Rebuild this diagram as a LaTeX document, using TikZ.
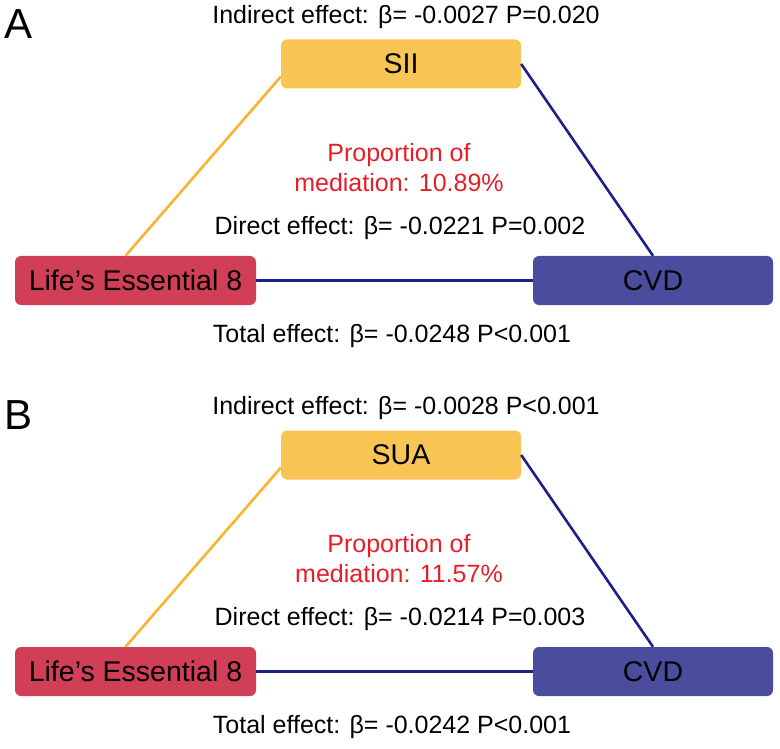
\documentclass[tikz,border=0pt]{standalone}
\usepackage{fontspec}
\setmainfont{Liberation Sans}
\usetikzlibrary{positioning}
\definecolor{medyellow}{HTML}{F8C555}
\definecolor{lifered}{HTML}{D03F55}
\definecolor{cvdblue}{HTML}{4A4D9E}
\definecolor{lineblue}{HTML}{1C2088}
\definecolor{lineyellow}{HTML}{F9B233}
\definecolor{propred}{HTML}{E61E28}

\begin{document}
\begin{tikzpicture}[x=1pt,y=-1pt]
\tikzstyle{every node}+=[font=\fontsize{25}{30}\selectfont]
\tikzstyle{box}=[rounded corners=6pt,minimum width=240pt,minimum height=49pt,inner sep=0pt,font=\fontsize{28.5}{30}\selectfont]
\tikzstyle{link}=[line width=2.6pt]
\useasboundingbox (0,0) rectangle (780,749);
\foreach \p/\dy/\med/\ind/\prop/\dir/\tot in {%
  A/0/SII/{-0.0027 P=0.020}/10.89/{-0.0221 P=0.002}/{-0.0248 P<0.001},%
  B/391/SUA/{-0.0028 P<0.001}/11.57/{-0.0214 P=0.003}/{-0.0242 P<0.001}}
{
\begin{scope}[yshift=-\dy pt]
% panel letter
\node (lab\p) at (19,24) {\fontsize{42}{42}\selectfont \p};
% boxes
\node[box,fill=medyellow] (med\p) at (401,64) {\med};
\node[box,fill=lifered,minimum width=241pt] (le\p) at (135.5,280.5) {Life’s Essential 8};
\node[box,fill=cvdblue] (cvd\p) at (653,280.5) {CVD};
% paths
\draw[link,lineyellow] (le\p.112) -- (med\p.186);
\draw[link,lineblue] (med\p.east) -- (cvd\p.north);
\draw[link,lineblue] (le\p.east) -- (cvd\p.west);
% effects
\node (ind\p) at (406,17) {Indirect effect: β= \ind};
\node[text=propred,align=center] (prop\p) at (399,168) {Proportion of\\mediation: \prop\%};
\node (dir\p) at (400,228) {Direct effect: β= \dir};
\node (tot\p) at (392,336) {Total effect: β= \tot};
\end{scope}
}
\end{tikzpicture}
\end{document}
